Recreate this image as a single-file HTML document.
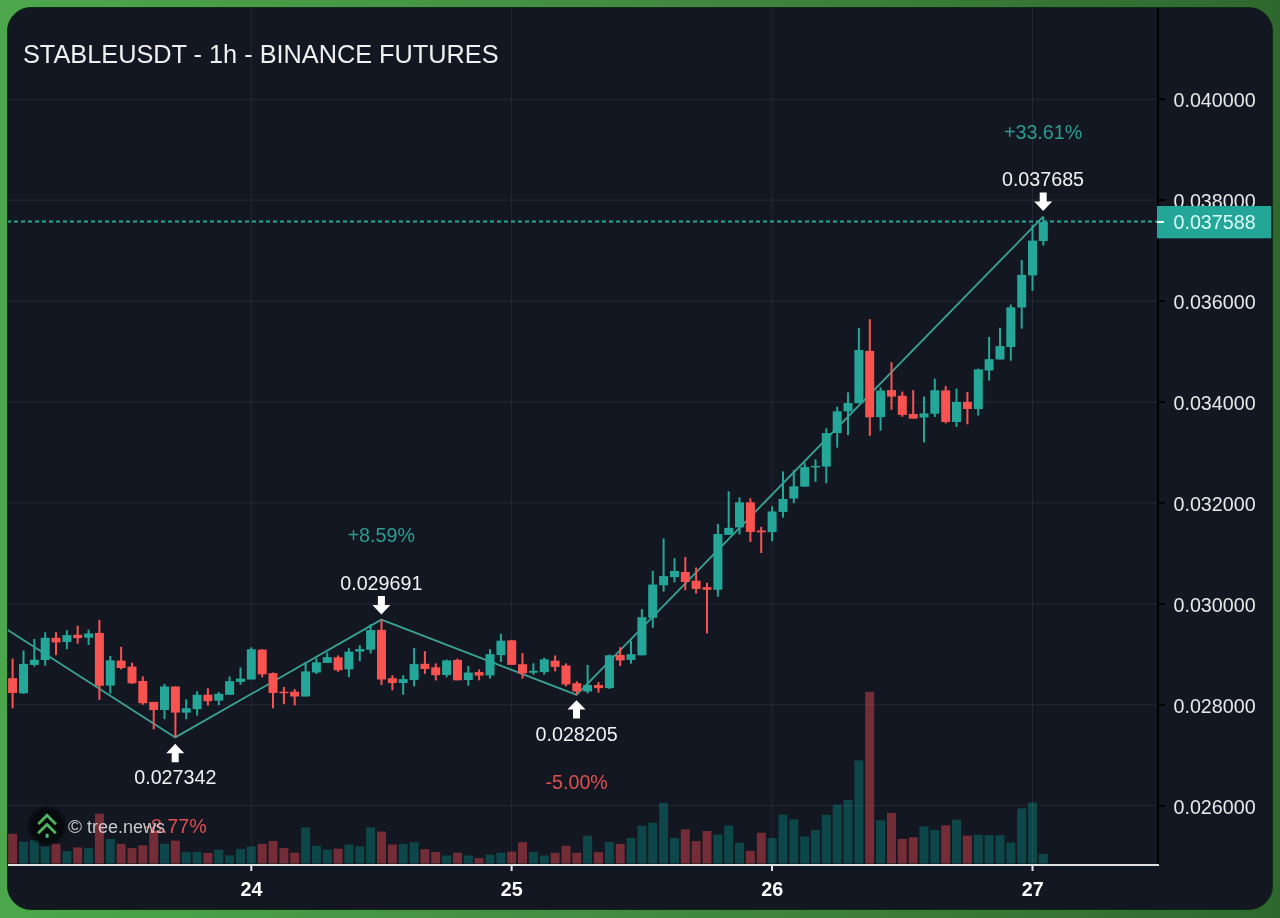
<!DOCTYPE html>
<html><head><meta charset="utf-8"><title>STABLEUSDT - 1h - BINANCE FUTURES</title>
<style>
html,body{margin:0;padding:0;}
body{width:1280px;height:918px;overflow:hidden;position:relative;background:linear-gradient(90deg,#4ca74c 0%,#438a41 50%,#2f682e 100%);}
.panel{position:absolute;left:7px;top:7px;width:1265.5px;height:903px;border-radius:24px;background:#131722;overflow:hidden;border:1px solid #0e2a15;box-sizing:border-box;}
.panel svg{will-change:transform;position:absolute;left:-8px;top:-8px;}
</style></head>
<body>
<div class="panel">
<svg width="1280" height="918" viewBox="0 0 1280 918">
<rect x="8.1" y="833.9" width="9" height="29.6" fill="#742c36"/>
<rect x="19.0" y="841.7" width="9" height="21.8" fill="#0e4749"/>
<rect x="29.8" y="840.2" width="9" height="23.3" fill="#0e4749"/>
<rect x="40.7" y="846.5" width="9" height="17.0" fill="#0e4749"/>
<rect x="51.5" y="843.8" width="9" height="19.7" fill="#742c36"/>
<rect x="62.4" y="851.2" width="9" height="12.3" fill="#0e4749"/>
<rect x="73.2" y="847.4" width="9" height="16.1" fill="#742c36"/>
<rect x="84.1" y="848.0" width="9" height="15.5" fill="#0e4749"/>
<rect x="94.9" y="813.6" width="9" height="49.9" fill="#742c36"/>
<rect x="105.8" y="838.9" width="9" height="24.6" fill="#0e4749"/>
<rect x="116.6" y="843.8" width="9" height="19.7" fill="#742c36"/>
<rect x="127.5" y="848.0" width="9" height="15.5" fill="#742c36"/>
<rect x="138.3" y="845.3" width="9" height="18.2" fill="#742c36"/>
<rect x="149.2" y="831.1" width="9" height="32.4" fill="#742c36"/>
<rect x="160.0" y="843.8" width="9" height="19.7" fill="#0e4749"/>
<rect x="170.9" y="840.6" width="9" height="22.9" fill="#742c36"/>
<rect x="181.7" y="852.2" width="9" height="11.3" fill="#0e4749"/>
<rect x="192.6" y="851.8" width="9" height="11.7" fill="#0e4749"/>
<rect x="203.4" y="852.9" width="9" height="10.6" fill="#742c36"/>
<rect x="214.2" y="849.7" width="9" height="13.8" fill="#0e4749"/>
<rect x="225.1" y="855.4" width="9" height="8.1" fill="#0e4749"/>
<rect x="236.0" y="849.0" width="9" height="14.5" fill="#0e4749"/>
<rect x="246.8" y="846.5" width="9" height="17.0" fill="#0e4749"/>
<rect x="257.7" y="843.8" width="9" height="19.7" fill="#742c36"/>
<rect x="268.5" y="841.0" width="9" height="22.5" fill="#742c36"/>
<rect x="279.4" y="848.0" width="9" height="15.5" fill="#742c36"/>
<rect x="290.2" y="852.7" width="9" height="10.8" fill="#742c36"/>
<rect x="301.1" y="827.4" width="9" height="36.1" fill="#0e4749"/>
<rect x="311.9" y="845.7" width="9" height="17.8" fill="#0e4749"/>
<rect x="322.8" y="849.7" width="9" height="13.8" fill="#0e4749"/>
<rect x="333.6" y="848.7" width="9" height="14.8" fill="#742c36"/>
<rect x="344.4" y="844.5" width="9" height="19.0" fill="#0e4749"/>
<rect x="355.3" y="846.4" width="9" height="17.1" fill="#0e4749"/>
<rect x="366.1" y="827.4" width="9" height="36.1" fill="#0e4749"/>
<rect x="377.0" y="831.6" width="9" height="31.9" fill="#742c36"/>
<rect x="387.9" y="844.5" width="9" height="19.0" fill="#742c36"/>
<rect x="398.7" y="843.8" width="9" height="19.7" fill="#0e4749"/>
<rect x="409.6" y="842.2" width="9" height="21.3" fill="#0e4749"/>
<rect x="420.4" y="849.2" width="9" height="14.3" fill="#742c36"/>
<rect x="431.2" y="852.0" width="9" height="11.5" fill="#742c36"/>
<rect x="442.1" y="855.5" width="9" height="8.0" fill="#0e4749"/>
<rect x="453.0" y="852.7" width="9" height="10.8" fill="#742c36"/>
<rect x="463.8" y="855.5" width="9" height="8.0" fill="#0e4749"/>
<rect x="474.6" y="858.1" width="9" height="5.4" fill="#742c36"/>
<rect x="485.5" y="854.6" width="9" height="8.9" fill="#0e4749"/>
<rect x="496.4" y="852.7" width="9" height="10.8" fill="#0e4749"/>
<rect x="507.2" y="851.6" width="9" height="11.9" fill="#742c36"/>
<rect x="518.0" y="842.2" width="9" height="21.3" fill="#742c36"/>
<rect x="528.9" y="852.0" width="9" height="11.5" fill="#0e4749"/>
<rect x="539.8" y="855.6" width="9" height="7.9" fill="#0e4749"/>
<rect x="550.6" y="852.8" width="9" height="10.7" fill="#742c36"/>
<rect x="561.5" y="845.8" width="9" height="17.7" fill="#742c36"/>
<rect x="572.3" y="852.8" width="9" height="10.7" fill="#742c36"/>
<rect x="583.1" y="835.7" width="9" height="27.8" fill="#0e4749"/>
<rect x="594.0" y="852.1" width="9" height="11.4" fill="#742c36"/>
<rect x="604.9" y="842.0" width="9" height="21.5" fill="#0e4749"/>
<rect x="615.7" y="843.9" width="9" height="19.6" fill="#742c36"/>
<rect x="626.5" y="838.0" width="9" height="25.5" fill="#0e4749"/>
<rect x="637.4" y="825.6" width="9" height="37.9" fill="#0e4749"/>
<rect x="648.2" y="822.8" width="9" height="40.7" fill="#0e4749"/>
<rect x="659.1" y="802.9" width="9" height="60.6" fill="#0e4749"/>
<rect x="670.0" y="838.0" width="9" height="25.5" fill="#0e4749"/>
<rect x="680.8" y="829.4" width="9" height="34.1" fill="#742c36"/>
<rect x="691.6" y="841.1" width="9" height="22.4" fill="#742c36"/>
<rect x="702.5" y="831.0" width="9" height="32.5" fill="#742c36"/>
<rect x="713.4" y="834.5" width="9" height="29.0" fill="#0e4749"/>
<rect x="724.2" y="825.6" width="9" height="37.9" fill="#0e4749"/>
<rect x="735.0" y="842.7" width="9" height="20.8" fill="#0e4749"/>
<rect x="745.9" y="850.9" width="9" height="12.6" fill="#742c36"/>
<rect x="756.8" y="832.7" width="9" height="30.8" fill="#742c36"/>
<rect x="767.6" y="838.0" width="9" height="25.5" fill="#0e4749"/>
<rect x="778.5" y="814.6" width="9" height="48.9" fill="#0e4749"/>
<rect x="789.3" y="819.3" width="9" height="44.2" fill="#0e4749"/>
<rect x="800.2" y="836.4" width="9" height="27.1" fill="#0e4749"/>
<rect x="811.0" y="830.0" width="9" height="33.5" fill="#0e4749"/>
<rect x="821.8" y="814.8" width="9" height="48.7" fill="#0e4749"/>
<rect x="832.7" y="804.6" width="9" height="58.9" fill="#0e4749"/>
<rect x="843.5" y="800.0" width="9" height="63.5" fill="#0e4749"/>
<rect x="854.4" y="760.3" width="9" height="103.2" fill="#0e4749"/>
<rect x="865.2" y="691.8" width="9" height="171.7" fill="#742c36"/>
<rect x="876.1" y="820.3" width="9" height="43.2" fill="#0e4749"/>
<rect x="887.0" y="812.9" width="9" height="50.6" fill="#742c36"/>
<rect x="897.8" y="838.9" width="9" height="24.6" fill="#742c36"/>
<rect x="908.7" y="837.3" width="9" height="26.2" fill="#742c36"/>
<rect x="919.5" y="826.5" width="9" height="37.0" fill="#0e4749"/>
<rect x="930.3" y="830.0" width="9" height="33.5" fill="#0e4749"/>
<rect x="941.2" y="825.3" width="9" height="38.2" fill="#742c36"/>
<rect x="952.0" y="819.7" width="9" height="43.8" fill="#0e4749"/>
<rect x="962.9" y="835.6" width="9" height="27.9" fill="#742c36"/>
<rect x="973.8" y="834.8" width="9" height="28.7" fill="#0e4749"/>
<rect x="984.6" y="835.2" width="9" height="28.3" fill="#0e4749"/>
<rect x="995.5" y="835.2" width="9" height="28.3" fill="#0e4749"/>
<rect x="1006.3" y="842.5" width="9" height="21.0" fill="#0e4749"/>
<rect x="1017.2" y="808.3" width="9" height="55.2" fill="#0e4749"/>
<rect x="1028.0" y="802.5" width="9" height="61.0" fill="#0e4749"/>
<rect x="1038.8" y="853.8" width="9" height="9.7" fill="#0e4749"/>
<rect x="250.8" y="7" width="1" height="857" fill="rgba(235,240,255,0.075)"/>
<rect x="511.1" y="7" width="1" height="857" fill="rgba(235,240,255,0.075)"/>
<rect x="771.5" y="7" width="1" height="857" fill="rgba(235,240,255,0.075)"/>
<rect x="1032.0" y="7" width="1" height="857" fill="rgba(235,240,255,0.075)"/>
<rect x="7" y="98.7" width="1150" height="1" fill="rgba(235,240,255,0.075)"/>
<rect x="7" y="199.6" width="1150" height="1" fill="rgba(235,240,255,0.075)"/>
<rect x="7" y="300.6" width="1150" height="1" fill="rgba(235,240,255,0.075)"/>
<rect x="7" y="401.5" width="1150" height="1" fill="rgba(235,240,255,0.075)"/>
<rect x="7" y="502.4" width="1150" height="1" fill="rgba(235,240,255,0.075)"/>
<rect x="7" y="603.4" width="1150" height="1" fill="rgba(235,240,255,0.075)"/>
<rect x="7" y="704.3" width="1150" height="1" fill="rgba(235,240,255,0.075)"/>
<rect x="7" y="805.2" width="1150" height="1" fill="rgba(235,240,255,0.075)"/>
<line x1="7" y1="221.5" x2="1157" y2="221.5" stroke="#24a698" stroke-width="2" stroke-dasharray="4 3"/>
<polyline fill="none" stroke="#38a394" stroke-width="1.8" stroke-linejoin="round" points="7.0,629.6 175.3,737.4 381.4,619.6 576.6,694.9 1043.2,216.6"/>
<rect x="11.6" y="658.6" width="2" height="49.7" fill="#f85351"/>
<rect x="8.1" y="678.2" width="9" height="14.8" fill="#f85351"/>
<rect x="22.5" y="650.5" width="2" height="43.2" fill="#24a698"/>
<rect x="19.0" y="663.9" width="9" height="29.4" fill="#24a698"/>
<rect x="33.3" y="639.0" width="2" height="27.5" fill="#24a698"/>
<rect x="29.8" y="659.7" width="9" height="5.2" fill="#24a698"/>
<rect x="44.2" y="632.2" width="2" height="33.4" fill="#24a698"/>
<rect x="40.7" y="637.8" width="9" height="22.2" fill="#24a698"/>
<rect x="55.0" y="632.2" width="2" height="22.9" fill="#f85351"/>
<rect x="51.5" y="637.8" width="9" height="4.6" fill="#f85351"/>
<rect x="65.9" y="630.3" width="2" height="18.9" fill="#24a698"/>
<rect x="62.4" y="635.1" width="9" height="6.9" fill="#24a698"/>
<rect x="76.7" y="625.7" width="2" height="18.0" fill="#f85351"/>
<rect x="73.2" y="634.8" width="9" height="3.3" fill="#f85351"/>
<rect x="87.6" y="629.6" width="2" height="15.4" fill="#24a698"/>
<rect x="84.1" y="633.5" width="9" height="4.2" fill="#24a698"/>
<rect x="98.4" y="619.8" width="2" height="80.1" fill="#f85351"/>
<rect x="94.9" y="632.9" width="9" height="52.9" fill="#f85351"/>
<rect x="109.3" y="656.0" width="2" height="37.7" fill="#24a698"/>
<rect x="105.8" y="660.3" width="9" height="25.3" fill="#24a698"/>
<rect x="120.1" y="646.8" width="2" height="22.6" fill="#f85351"/>
<rect x="116.6" y="660.6" width="9" height="7.4" fill="#f85351"/>
<rect x="131.0" y="662.7" width="2" height="21.2" fill="#f85351"/>
<rect x="127.5" y="666.6" width="9" height="16.7" fill="#f85351"/>
<rect x="141.8" y="676.4" width="2" height="28.4" fill="#f85351"/>
<rect x="138.3" y="681.0" width="9" height="22.2" fill="#f85351"/>
<rect x="152.7" y="701.9" width="2" height="27.4" fill="#f85351"/>
<rect x="149.2" y="701.9" width="9" height="8.1" fill="#f85351"/>
<rect x="163.5" y="683.9" width="2" height="35.3" fill="#24a698"/>
<rect x="160.0" y="686.5" width="9" height="23.5" fill="#24a698"/>
<rect x="174.4" y="686.2" width="2" height="51.0" fill="#f85351"/>
<rect x="170.9" y="686.5" width="9" height="26.1" fill="#f85351"/>
<rect x="185.2" y="699.3" width="2" height="19.9" fill="#24a698"/>
<rect x="181.7" y="708.2" width="9" height="4.4" fill="#24a698"/>
<rect x="196.1" y="691.2" width="2" height="24.4" fill="#24a698"/>
<rect x="192.6" y="694.7" width="9" height="14.4" fill="#24a698"/>
<rect x="206.9" y="688.2" width="2" height="17.4" fill="#f85351"/>
<rect x="203.4" y="694.7" width="9" height="6.5" fill="#f85351"/>
<rect x="217.8" y="692.1" width="2" height="13.1" fill="#24a698"/>
<rect x="214.2" y="693.8" width="9" height="6.8" fill="#24a698"/>
<rect x="228.6" y="676.5" width="2" height="18.3" fill="#24a698"/>
<rect x="225.1" y="681.1" width="9" height="13.7" fill="#24a698"/>
<rect x="239.5" y="667.5" width="2" height="17.3" fill="#24a698"/>
<rect x="236.0" y="678.6" width="9" height="3.3" fill="#24a698"/>
<rect x="250.3" y="647.3" width="2" height="32.2" fill="#24a698"/>
<rect x="246.8" y="649.2" width="9" height="30.3" fill="#24a698"/>
<rect x="261.2" y="649.2" width="2" height="28.1" fill="#f85351"/>
<rect x="257.7" y="649.6" width="9" height="24.7" fill="#f85351"/>
<rect x="272.0" y="672.5" width="2" height="35.8" fill="#f85351"/>
<rect x="268.5" y="673.1" width="9" height="19.9" fill="#f85351"/>
<rect x="282.9" y="686.9" width="2" height="17.2" fill="#f85351"/>
<rect x="279.4" y="691.7" width="9" height="1.5" fill="#f85351"/>
<rect x="293.7" y="689.1" width="2" height="16.3" fill="#f85351"/>
<rect x="290.2" y="691.7" width="9" height="4.8" fill="#f85351"/>
<rect x="304.6" y="662.0" width="2" height="34.5" fill="#24a698"/>
<rect x="301.1" y="671.4" width="9" height="25.1" fill="#24a698"/>
<rect x="315.4" y="658.4" width="2" height="15.6" fill="#24a698"/>
<rect x="311.9" y="662.3" width="9" height="10.2" fill="#24a698"/>
<rect x="326.2" y="652.5" width="2" height="10.4" fill="#24a698"/>
<rect x="322.8" y="657.1" width="9" height="5.8" fill="#24a698"/>
<rect x="337.1" y="655.3" width="2" height="16.5" fill="#f85351"/>
<rect x="333.6" y="657.3" width="9" height="12.9" fill="#f85351"/>
<rect x="347.9" y="648.1" width="2" height="29.0" fill="#24a698"/>
<rect x="344.4" y="651.6" width="9" height="17.7" fill="#24a698"/>
<rect x="358.8" y="645.1" width="2" height="16.1" fill="#24a698"/>
<rect x="355.3" y="649.0" width="9" height="2.6" fill="#24a698"/>
<rect x="369.6" y="624.2" width="2" height="29.4" fill="#24a698"/>
<rect x="366.1" y="630.1" width="9" height="19.6" fill="#24a698"/>
<rect x="380.5" y="619.6" width="2" height="65.4" fill="#f85351"/>
<rect x="377.0" y="629.8" width="9" height="49.7" fill="#f85351"/>
<rect x="391.4" y="675.2" width="2" height="15.0" fill="#f85351"/>
<rect x="387.9" y="678.2" width="9" height="4.8" fill="#f85351"/>
<rect x="402.2" y="675.2" width="2" height="19.6" fill="#24a698"/>
<rect x="398.7" y="679.1" width="9" height="3.9" fill="#24a698"/>
<rect x="413.1" y="648.1" width="2" height="38.2" fill="#24a698"/>
<rect x="409.6" y="664.1" width="9" height="15.9" fill="#24a698"/>
<rect x="423.9" y="651.2" width="2" height="22.7" fill="#f85351"/>
<rect x="420.4" y="663.8" width="9" height="5.2" fill="#f85351"/>
<rect x="434.8" y="663.4" width="2" height="17.0" fill="#f85351"/>
<rect x="431.2" y="667.3" width="9" height="7.9" fill="#f85351"/>
<rect x="445.6" y="659.5" width="2" height="17.9" fill="#24a698"/>
<rect x="442.1" y="660.4" width="9" height="14.6" fill="#24a698"/>
<rect x="456.5" y="658.6" width="2" height="21.7" fill="#f85351"/>
<rect x="453.0" y="659.9" width="9" height="20.4" fill="#f85351"/>
<rect x="467.3" y="666.0" width="2" height="19.8" fill="#24a698"/>
<rect x="463.8" y="672.5" width="9" height="7.5" fill="#24a698"/>
<rect x="478.1" y="669.5" width="2" height="10.8" fill="#f85351"/>
<rect x="474.6" y="672.1" width="9" height="3.5" fill="#f85351"/>
<rect x="489.0" y="649.2" width="2" height="29.4" fill="#24a698"/>
<rect x="485.5" y="654.2" width="9" height="21.2" fill="#24a698"/>
<rect x="499.9" y="633.8" width="2" height="28.2" fill="#24a698"/>
<rect x="496.4" y="640.7" width="9" height="14.4" fill="#24a698"/>
<rect x="510.7" y="639.8" width="2" height="25.1" fill="#f85351"/>
<rect x="507.2" y="640.3" width="9" height="24.6" fill="#f85351"/>
<rect x="521.5" y="653.1" width="2" height="25.5" fill="#f85351"/>
<rect x="518.0" y="664.2" width="9" height="9.2" fill="#f85351"/>
<rect x="532.4" y="663.3" width="2" height="11.4" fill="#24a698"/>
<rect x="528.9" y="670.8" width="9" height="1.9" fill="#24a698"/>
<rect x="543.2" y="657.7" width="2" height="17.0" fill="#24a698"/>
<rect x="539.8" y="659.4" width="9" height="12.7" fill="#24a698"/>
<rect x="554.1" y="655.5" width="2" height="15.9" fill="#f85351"/>
<rect x="550.6" y="660.7" width="9" height="6.2" fill="#f85351"/>
<rect x="565.0" y="663.4" width="2" height="22.9" fill="#f85351"/>
<rect x="561.5" y="665.5" width="9" height="18.9" fill="#f85351"/>
<rect x="575.8" y="681.2" width="2" height="13.8" fill="#f85351"/>
<rect x="572.3" y="683.2" width="9" height="8.3" fill="#f85351"/>
<rect x="586.6" y="664.9" width="2" height="28.5" fill="#24a698"/>
<rect x="583.1" y="685.0" width="9" height="6.5" fill="#24a698"/>
<rect x="597.5" y="682.0" width="2" height="10.7" fill="#f85351"/>
<rect x="594.0" y="685.0" width="9" height="3.1" fill="#f85351"/>
<rect x="608.4" y="654.6" width="2" height="34.3" fill="#24a698"/>
<rect x="604.9" y="655.3" width="9" height="32.8" fill="#24a698"/>
<rect x="619.2" y="647.2" width="2" height="18.8" fill="#f85351"/>
<rect x="615.7" y="654.9" width="9" height="5.5" fill="#f85351"/>
<rect x="630.0" y="640.8" width="2" height="22.9" fill="#24a698"/>
<rect x="626.5" y="654.2" width="9" height="5.7" fill="#24a698"/>
<rect x="640.9" y="609.1" width="2" height="46.2" fill="#24a698"/>
<rect x="637.4" y="617.2" width="9" height="38.1" fill="#24a698"/>
<rect x="651.8" y="570.8" width="2" height="57.0" fill="#24a698"/>
<rect x="648.2" y="584.5" width="9" height="33.3" fill="#24a698"/>
<rect x="662.6" y="538.4" width="2" height="53.2" fill="#24a698"/>
<rect x="659.1" y="576.1" width="9" height="9.2" fill="#24a698"/>
<rect x="673.5" y="558.1" width="2" height="24.2" fill="#24a698"/>
<rect x="670.0" y="571.0" width="9" height="6.1" fill="#24a698"/>
<rect x="684.3" y="557.0" width="2" height="33.2" fill="#f85351"/>
<rect x="680.8" y="572.0" width="9" height="10.0" fill="#f85351"/>
<rect x="695.1" y="567.5" width="2" height="26.1" fill="#f85351"/>
<rect x="691.6" y="580.7" width="9" height="8.2" fill="#f85351"/>
<rect x="706.0" y="582.8" width="2" height="50.6" fill="#f85351"/>
<rect x="702.5" y="587.2" width="9" height="2.6" fill="#f85351"/>
<rect x="716.9" y="523.9" width="2" height="72.9" fill="#24a698"/>
<rect x="713.4" y="534.0" width="9" height="55.8" fill="#24a698"/>
<rect x="727.7" y="491.3" width="2" height="43.6" fill="#24a698"/>
<rect x="724.2" y="527.9" width="9" height="7.0" fill="#24a698"/>
<rect x="738.5" y="497.4" width="2" height="37.0" fill="#24a698"/>
<rect x="735.0" y="502.3" width="9" height="25.1" fill="#24a698"/>
<rect x="749.4" y="498.3" width="2" height="43.6" fill="#f85351"/>
<rect x="745.9" y="502.3" width="9" height="29.6" fill="#f85351"/>
<rect x="760.2" y="526.8" width="2" height="26.2" fill="#f85351"/>
<rect x="756.8" y="530.5" width="9" height="1.8" fill="#f85351"/>
<rect x="771.1" y="506.3" width="2" height="34.9" fill="#24a698"/>
<rect x="767.6" y="511.5" width="9" height="20.6" fill="#24a698"/>
<rect x="782.0" y="471.5" width="2" height="46.1" fill="#24a698"/>
<rect x="778.5" y="499.0" width="9" height="12.9" fill="#24a698"/>
<rect x="792.8" y="470.0" width="2" height="33.2" fill="#24a698"/>
<rect x="789.3" y="486.3" width="9" height="12.2" fill="#24a698"/>
<rect x="803.7" y="462.7" width="2" height="23.9" fill="#24a698"/>
<rect x="800.2" y="467.1" width="9" height="19.5" fill="#24a698"/>
<rect x="814.5" y="459.3" width="2" height="22.6" fill="#24a698"/>
<rect x="811.0" y="465.9" width="9" height="1.5" fill="#24a698"/>
<rect x="825.3" y="428.2" width="2" height="55.1" fill="#24a698"/>
<rect x="821.8" y="433.1" width="9" height="33.5" fill="#24a698"/>
<rect x="836.2" y="406.7" width="2" height="40.9" fill="#24a698"/>
<rect x="832.7" y="411.3" width="9" height="21.7" fill="#24a698"/>
<rect x="847.0" y="392.4" width="2" height="42.8" fill="#24a698"/>
<rect x="843.5" y="403.0" width="9" height="8.4" fill="#24a698"/>
<rect x="857.9" y="328.0" width="2" height="75.2" fill="#24a698"/>
<rect x="854.4" y="350.0" width="9" height="53.2" fill="#24a698"/>
<rect x="868.8" y="319.2" width="2" height="116.6" fill="#f85351"/>
<rect x="865.2" y="350.9" width="9" height="66.4" fill="#f85351"/>
<rect x="879.6" y="387.5" width="2" height="43.3" fill="#24a698"/>
<rect x="876.1" y="390.5" width="9" height="26.6" fill="#24a698"/>
<rect x="890.5" y="362.2" width="2" height="47.7" fill="#f85351"/>
<rect x="887.0" y="390.1" width="9" height="6.5" fill="#f85351"/>
<rect x="901.3" y="391.6" width="2" height="25.2" fill="#f85351"/>
<rect x="897.8" y="395.7" width="9" height="19.2" fill="#f85351"/>
<rect x="912.2" y="390.1" width="2" height="28.5" fill="#f85351"/>
<rect x="908.7" y="414.0" width="9" height="4.6" fill="#f85351"/>
<rect x="923.0" y="396.6" width="2" height="45.8" fill="#24a698"/>
<rect x="919.5" y="413.4" width="9" height="4.1" fill="#24a698"/>
<rect x="933.8" y="378.6" width="2" height="38.4" fill="#24a698"/>
<rect x="930.3" y="390.2" width="9" height="23.5" fill="#24a698"/>
<rect x="944.7" y="386.1" width="2" height="37.3" fill="#f85351"/>
<rect x="941.2" y="390.4" width="9" height="31.6" fill="#f85351"/>
<rect x="955.5" y="388.5" width="2" height="38.4" fill="#24a698"/>
<rect x="952.0" y="401.9" width="9" height="20.1" fill="#24a698"/>
<rect x="966.4" y="392.0" width="2" height="32.3" fill="#f85351"/>
<rect x="962.9" y="401.9" width="9" height="7.1" fill="#f85351"/>
<rect x="977.2" y="368.6" width="2" height="47.0" fill="#24a698"/>
<rect x="973.8" y="369.4" width="9" height="39.6" fill="#24a698"/>
<rect x="988.1" y="336.9" width="2" height="43.6" fill="#24a698"/>
<rect x="984.6" y="359.2" width="9" height="11.3" fill="#24a698"/>
<rect x="999.0" y="327.8" width="2" height="31.7" fill="#24a698"/>
<rect x="995.5" y="346.1" width="9" height="13.4" fill="#24a698"/>
<rect x="1009.8" y="304.5" width="2" height="56.2" fill="#24a698"/>
<rect x="1006.3" y="307.3" width="9" height="39.7" fill="#24a698"/>
<rect x="1020.7" y="259.9" width="2" height="68.8" fill="#24a698"/>
<rect x="1017.2" y="274.9" width="9" height="32.6" fill="#24a698"/>
<rect x="1031.5" y="224.7" width="2" height="66.2" fill="#24a698"/>
<rect x="1028.0" y="240.6" width="9" height="34.8" fill="#24a698"/>
<rect x="1042.3" y="216.6" width="2" height="28.9" fill="#24a698"/>
<rect x="1038.8" y="222.0" width="9" height="19.1" fill="#24a698"/>
<path d="M377.9,596.1 h7 v9 h5.5 L381.4,614.5 L372.4,605.1 h5.5 Z" fill="#ffffff"/>
<path d="M1039.7,192.6 h7 v9 h5.5 L1043.2,211.0 L1034.2,201.6 h5.5 Z" fill="#ffffff"/>
<path d="M171.7,762.2 h7 v-9 h5.5 L175.2,743.8 L166.2,753.2 h5.5 Z" fill="#ffffff"/>
<path d="M573.0,718.6 h7 v-9 h5.5 L576.5,700.2 L567.5,709.6 h5.5 Z" fill="#ffffff"/>
<text x="381.3" y="542.2" fill="#2a9d90" font-family="'Liberation Sans', Arial, sans-serif" font-size="19.7" text-anchor="middle" >+8.59%</text>
<text x="381.3" y="590.2" fill="#f2f2f2" font-family="'Liberation Sans', Arial, sans-serif" font-size="19.7" text-anchor="middle" >0.029691</text>
<text x="175.3" y="784.4" fill="#f2f2f2" font-family="'Liberation Sans', Arial, sans-serif" font-size="19.7" text-anchor="middle" >0.027342</text>
<text x="576.6" y="741.0" fill="#f2f2f2" font-family="'Liberation Sans', Arial, sans-serif" font-size="19.7" text-anchor="middle" >0.028205</text>
<text x="576.7" y="789.3" fill="#dc5050" font-family="'Liberation Sans', Arial, sans-serif" font-size="19.7" text-anchor="middle" >-5.00%</text>
<text x="1043.1" y="139.4" fill="#2a9d90" font-family="'Liberation Sans', Arial, sans-serif" font-size="19.7" text-anchor="middle" >+33.61%</text>
<text x="1043.0" y="186.1" fill="#f2f2f2" font-family="'Liberation Sans', Arial, sans-serif" font-size="19.7" text-anchor="middle" >0.037685</text>
<text x="175.6" y="832.8" fill="#dc5050" font-family="'Liberation Sans', Arial, sans-serif" font-size="19.7" text-anchor="middle" >-8.77%</text>
<defs><radialGradient id="lg" cx="0.5" cy="0.5" r="0.5"><stop offset="0" stop-color="#06080b" stop-opacity="0.95"/><stop offset="0.78" stop-color="#06080b" stop-opacity="0.85"/><stop offset="1" stop-color="#06080b" stop-opacity="0"/></radialGradient></defs>
<circle cx="46.8" cy="825.8" r="21" fill="url(#lg)"/>
<polyline points="39.3,823 47,815.3 54.9,823.2" fill="none" stroke="#4fb553" stroke-width="2.8" stroke-linecap="square"/>
<polyline points="39.3,823 47,815.3 54.9,823.2" fill="none" stroke="#4aa8b0" stroke-width="0.9" stroke-linecap="butt" stroke-dasharray="1.5 1.5"/>
<polyline points="39.1,832.3 47,824.4 54.8,832.3" fill="none" stroke="#4fb553" stroke-width="2.8" stroke-linecap="square"/>
<polyline points="39.1,832.3 47,824.4 54.8,832.3" fill="none" stroke="#4aa8b0" stroke-width="0.9" stroke-linecap="butt" stroke-dasharray="1.5 1.5"/>
<rect x="45.6" y="833.8" width="3" height="4" fill="#4fb553"/>
<rect x="46.3" y="834.4" width="1.6" height="2.8" fill="#50b8c0"/>
<text x="68" y="833" fill="#c9c9c9" font-family="'Liberation Sans', Arial, sans-serif" font-size="19">&#169;<tspan font-size="18"> tree.news</tspan></text>
<text x="23" y="63.3" fill="#f0f0f0" font-family="'Liberation Sans', Arial, sans-serif" font-size="25.3">STABLEUSDT - 1h - BINANCE FUTURES</text>
<rect x="1157" y="7" width="2" height="859" fill="#000000"/>
<rect x="7" y="864" width="1152" height="2" fill="#e0e0e0"/>
<rect x="250.3" y="866" width="2" height="5" fill="#e0e0e0"/>
<text x="251.5" y="896.1" fill="#ffffff" font-family="'Liberation Sans', Arial, sans-serif" font-size="19.7" font-weight="bold" text-anchor="middle">24</text>
<rect x="510.6" y="866" width="2" height="5" fill="#e0e0e0"/>
<text x="511.8" y="896.1" fill="#ffffff" font-family="'Liberation Sans', Arial, sans-serif" font-size="19.7" font-weight="bold" text-anchor="middle">25</text>
<rect x="771.0" y="866" width="2" height="5" fill="#e0e0e0"/>
<text x="772.2" y="896.1" fill="#ffffff" font-family="'Liberation Sans', Arial, sans-serif" font-size="19.7" font-weight="bold" text-anchor="middle">26</text>
<rect x="1031.5" y="866" width="2" height="5" fill="#e0e0e0"/>
<text x="1032.7" y="896.1" fill="#ffffff" font-family="'Liberation Sans', Arial, sans-serif" font-size="19.7" font-weight="bold" text-anchor="middle">27</text>
<rect x="1159" y="98.2" width="6" height="2" fill="#000000"/>
<text x="1173.5" y="107.0" fill="#e8e8e8" font-family="'Liberation Sans', Arial, sans-serif" font-size="19.7">0.040000</text>
<rect x="1159" y="199.1" width="6" height="2" fill="#000000"/>
<text x="1173.5" y="207.9" fill="#e8e8e8" font-family="'Liberation Sans', Arial, sans-serif" font-size="19.7">0.038000</text>
<rect x="1159" y="300.1" width="6" height="2" fill="#000000"/>
<text x="1173.5" y="308.9" fill="#e8e8e8" font-family="'Liberation Sans', Arial, sans-serif" font-size="19.7">0.036000</text>
<rect x="1159" y="401.0" width="6" height="2" fill="#000000"/>
<text x="1173.5" y="409.8" fill="#e8e8e8" font-family="'Liberation Sans', Arial, sans-serif" font-size="19.7">0.034000</text>
<rect x="1159" y="501.9" width="6" height="2" fill="#000000"/>
<text x="1173.5" y="510.7" fill="#e8e8e8" font-family="'Liberation Sans', Arial, sans-serif" font-size="19.7">0.032000</text>
<rect x="1159" y="602.9" width="6" height="2" fill="#000000"/>
<text x="1173.5" y="611.6" fill="#e8e8e8" font-family="'Liberation Sans', Arial, sans-serif" font-size="19.7">0.030000</text>
<rect x="1159" y="703.8" width="6" height="2" fill="#000000"/>
<text x="1173.5" y="712.6" fill="#e8e8e8" font-family="'Liberation Sans', Arial, sans-serif" font-size="19.7">0.028000</text>
<rect x="1159" y="804.7" width="6" height="2" fill="#000000"/>
<text x="1173.5" y="813.5" fill="#e8e8e8" font-family="'Liberation Sans', Arial, sans-serif" font-size="19.7">0.026000</text>
<rect x="1157" y="206" width="114.2" height="32.3" fill="#23a597"/>
<rect x="1157" y="221" width="7" height="2" fill="#e8fffb"/>
<text x="1173.5" y="229.3" fill="#dcfff9" font-family="'Liberation Sans', Arial, sans-serif" font-size="19.7">0.037588</text>
</svg>
</div>
</body></html>
